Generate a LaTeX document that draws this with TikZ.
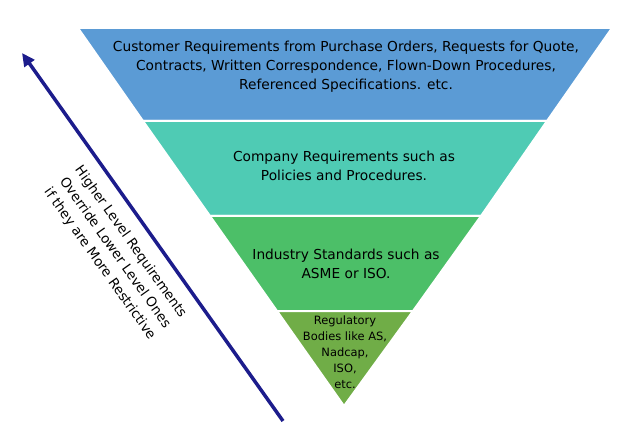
\documentclass[tikz,border=0pt]{standalone}
\usepackage{fontspec}
\setmainfont{DejaVu Sans}
\usetikzlibrary{positioning, arrows.meta}
\definecolor{custblue}{HTML}{5B9BD5}
\definecolor{compteal}{HTML}{4FCBB4}
\definecolor{indgreen}{HTML}{4CBF68}
\definecolor{reggreen}{HTML}{70AD47}
\definecolor{arrownavy}{HTML}{1C1C8C}
\tikzset{
x=1bp, y=-1bp,
band/.style={draw=white, line width=2bp}, % white gap between levels
level text/.style={align=center, font=\fontsize{13.8}{19}\selectfont},
}
\begin{document}
\begin{tikzpicture}
\useasboundingbox (0,0) rectangle (624,436);
% pyramid levels, top to bottom
\filldraw[band, fill=custblue] (78,28) -- (612,28) -- (547,121) -- (143,121) -- cycle;
\filldraw[band, fill=compteal] (143,121) -- (547,121) -- (481,216) -- (210,216) -- cycle;
\filldraw[band, fill=indgreen] (210,216) -- (481,216) -- (413,311) -- (277,311) -- cycle;
\filldraw[band, fill=reggreen] (277,311) -- (413,311) -- (344,406) -- cycle;
\node[level text] (cust) at (346,67) {Customer Requirements from Purchase Orders, Requests for Quote,\\Contracts, Written Correspondence, Flown-Down Procedures,\\Referenced Specifications. etc.};
\node[level text] (comp) at (344,166) {Company Requirements such as\\Policies and Procedures.};
\node[level text] (ind) at (346,264) {Industry Standards such as\\ASME or ISO.};
\node[level text, font=\fontsize{11.5}{16}\selectfont] (reg) at (345,352) {Regulatory\\Bodies like AS,\\Nadcap,\\ISO,\\etc.};
% precedence arrow
\coordinate (low) at (283,421);
\coordinate (high) at (22,53);
\draw[arrownavy, line width=3.5bp, -{Triangle[length=13bp, width=12bp]}] (low) -- (high);
\node[level text, rotate=-54.6, font=\fontsize{13.5}{19}\selectfont] (rule) at (115,253) {Higher Level Requirements\\Override Lower Level Ones\\if they are More Restrictive};
\end{tikzpicture}
\end{document}
